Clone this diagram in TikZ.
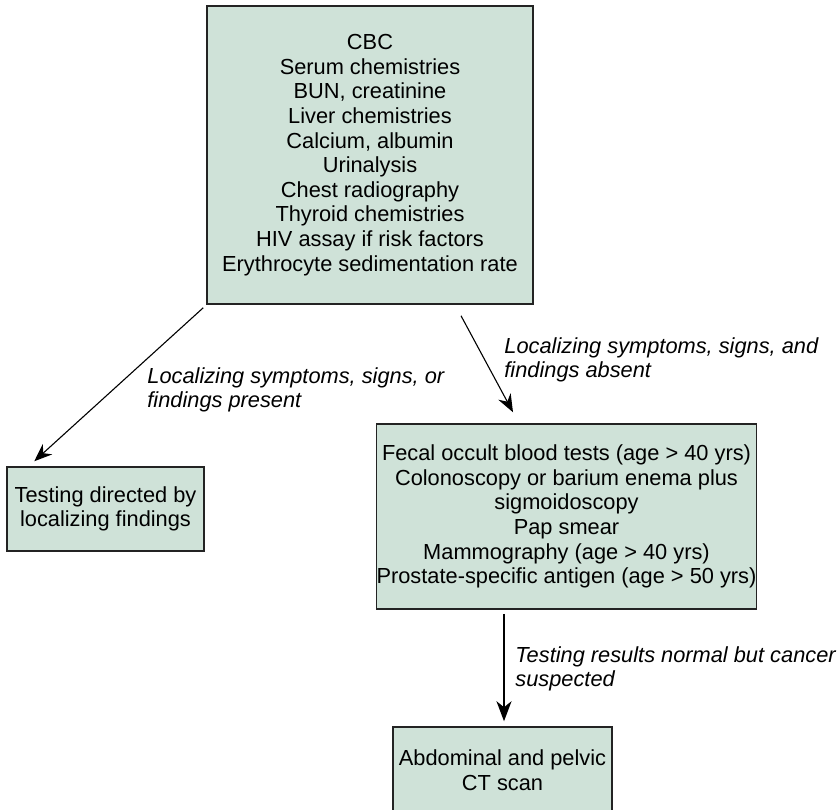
\documentclass[tikz,border=0pt]{standalone}
\usepackage{fontspec}
\setmainfont{Liberation Sans}
\usetikzlibrary{arrows.meta}

\definecolor{boxfill}{RGB}{207,226,216}
\definecolor{boxline}{RGB}{35,35,35}

\begin{document}
\begin{tikzpicture}[x=0.5pt,y=-0.5pt,
  every node/.style={font=\fontsize{10.9}{12.3}\selectfont, inner sep=0pt},
  stagebox/.style={draw=boxline, fill=boxfill, line width=0.75pt, align=center},
  branchlabel/.style={anchor=west, align=left, font=\fontsize{10.9}{12.1}\selectfont\itshape},
  thinarrow/.style={line width=0.55pt, -{Stealth[length=9pt, width=7pt, inset=3pt]}},
  thickarrow/.style={line width=1pt, -{Stealth[length=10pt, width=7.5pt, inset=3pt]}}
]
\useasboundingbox (0,0) rectangle (838,809);

% initial work-up
\node[stagebox, minimum width=326*0.5pt, minimum height=298*0.5pt] (work) at (370,155)
  {CBC\\Serum chemistries\\BUN, creatinine\\Liver chemistries\\Calcium, albumin\\Urinalysis\\Chest radiography\\Thyroid chemistries\\HIV assay if risk factors\\Erythrocyte sedimentation rate};

% localizing findings present
\node[stagebox, minimum width=197*0.5pt, minimum height=84*0.5pt] (directed) at (105.5,509)
  {Testing directed by\\localizing findings};

% screening tests
\node[stagebox, minimum width=377*0.5pt, minimum height=185*0.5pt] (screen) at (566.5,516.5)
  {Fecal occult blood tests (age \textgreater\ 40 yrs)\\Colonoscopy or barium enema plus\\sigmoidoscopy\\Pap smear\\Mammography (age \textgreater\ 40 yrs)\\Prostate-specific antigen (age \textgreater\ 50 yrs)};

% imaging (runs past the lower page edge)
\node[stagebox, minimum width=219*0.5pt, minimum height=86*0.5pt] (ct) at (502.5,770)
  {Abdominal and pelvic\\CT scan};

% connector end points
\coordinate (a1s) at ([shift={(-3,3)}]work.south west);
\coordinate (a1e) at ([shift={(28,-5)}]directed.north west);
\coordinate (a2s) at ([shift={(91,11)}]work.south);
\coordinate (a2e) at ([shift={(-53.5,-11)}]screen.north);
\coordinate (a3s) at ([shift={(-62.5,4)}]screen.south);
\coordinate (a3e) at ([shift={(1.5,-5)}]ct.north);

\draw[thinarrow] (a1s) -- (a1e);
\draw[thinarrow] (a2s) -- (a2e);
\draw[thickarrow] (a3s) -- (a3e);

% branch labels
\node[branchlabel] (lpresent) at (147,390) {Localizing symptoms, signs, or\\findings present};
\node[branchlabel] (labsent) at (504,359.5) {Localizing symptoms, signs, and\\findings absent};
\node[branchlabel] (lnormal) at (515,668.5) {Testing results normal but cancer\\suspected};
\end{tikzpicture}
\end{document}
